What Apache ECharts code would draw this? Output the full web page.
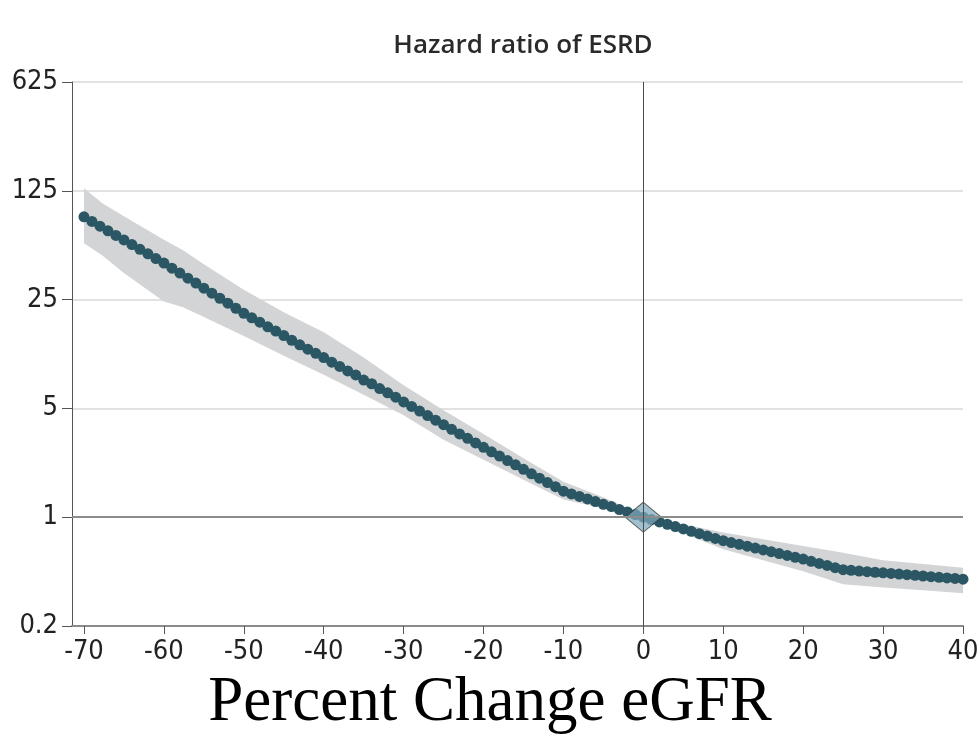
<!DOCTYPE html>
<html>
<head>
<meta charset="utf-8">
<title>Hazard ratio of ESRD</title>
<script src="https://cdn.jsdelivr.net/npm/echarts@6/dist/echarts.min.js"></script>
<style>
  html, body { margin: 0; padding: 0; background: #fff; }
  #chart { width: 977px; height: 750px; }
</style>
</head>
<body>
<div id="chart"></div>
<script>
// Percent change in eGFR (one estimate per whole percent)
const pctChange = [
  -70, -69, -68, -67, -66, -65, -64, -63, -62, -61,
  -60, -59, -58, -57, -56, -55, -54, -53, -52, -51,
  -50, -49, -48, -47, -46, -45, -44, -43, -42, -41,
  -40, -39, -38, -37, -36, -35, -34, -33, -32, -31,
  -30, -29, -28, -27, -26, -25, -24, -23, -22, -21,
  -20, -19, -18, -17, -16, -15, -14, -13, -12, -11,
  -10, -9, -8, -7, -6, -5, -4, -3, -2, -1,
  0, 1, 2, 3, 4, 5, 6, 7, 8, 9,
  10, 11, 12, 13, 14, 15, 16, 17, 18, 19,
  20, 21, 22, 23, 24, 25, 26, 27, 28, 29,
  30, 31, 32, 33, 34, 35, 36, 37, 38, 39, 40
];

// Adjusted hazard ratio of ESRD at each percent change
const hazardRatio = [
  85.0, 79.4, 74.1, 69.2, 64.6, 60.4, 56.4, 52.6, 49.2, 45.9,
  42.9, 39.8, 37.0, 34.3, 31.9, 29.6, 27.5, 25.5, 23.7, 22.0,
  20.4, 19.1, 17.9, 16.7, 15.7, 14.7, 13.7, 12.8, 12.0, 11.3,
  10.6, 9.9, 9.3, 8.7, 8.2, 7.6, 7.2, 6.7, 6.3, 5.9,
  5.5, 5.15, 4.81, 4.5, 4.2, 3.93, 3.67, 3.43, 3.21, 3.0,
  2.81, 2.63, 2.47, 2.31, 2.17, 2.03, 1.90, 1.78, 1.67, 1.57,
  1.47, 1.41, 1.36, 1.31, 1.26, 1.21, 1.17, 1.12, 1.08, 1.04,
  1.00, 0.966, 0.933, 0.901, 0.870, 0.841, 0.812, 0.784, 0.757, 0.731,
  0.706, 0.687, 0.669, 0.651, 0.633, 0.616, 0.600, 0.584, 0.568, 0.553,
  0.538, 0.521, 0.505, 0.490, 0.474, 0.460, 0.456, 0.451, 0.447, 0.443,
  0.439, 0.435, 0.431, 0.427, 0.423, 0.419, 0.415, 0.411, 0.407, 0.404, 0.400
];

// 95% confidence band
const ciX     = [-70, -67.7, -65, -60, -57.6, -55, -50, -45, -40, -35, -30, -25, -20, -15, -10, -5, 0, 5, 10, 15, 20, 25, 30, 35, 40];
const ciUpper = [129.9, 104, 85.9, 60.7, 51.9, 42.2, 28.9, 20.7, 15.4, 10.6, 7.05, 4.86, 3.42, 2.39, 1.69, 1.345, 1.03, 0.902, 0.796, 0.722, 0.654, 0.591, 0.529, 0.501, 0.474];
const ciLower = [57.6, 48.0, 37.0, 24.3, 22.3, 19.3, 14.6, 10.9, 8.24, 6.13, 4.52, 3.15, 2.34, 1.74, 1.30, 1.14, 0.97, 0.789, 0.623, 0.529, 0.450, 0.371, 0.353, 0.340, 0.325];

// Reference point (0% change, HR = 1)
const referencePoint = [0, 1];

// Axis ticks
const xTicks = [-70, -60, -50, -40, -30, -20, -10, 0, 10, 20, 30, 40];
const yTicks = [0.2, 1, 5, 25, 125, 625];

const labelFont = "'DejaVu Sans Condensed', 'Liberation Sans Narrow', 'DejaVu Sans', sans-serif";

const chart = echarts.init(document.getElementById('chart'), null, { renderer: 'canvas' });

function fmtY(v) {
  for (const t of yTicks) {
    if (Math.abs(v - t) / t < 1e-6) return String(t);
  }
  return '';
}

const option = {
  animation: false,
  backgroundColor: '#ffffff',
  graphic: [
    {
      type: 'text', x: 523, y: 46, z: 10,
      style: {
        text: 'Hazard ratio of ESRD', align: 'center', verticalAlign: 'middle',
        font: "600 26px 'Open Sans', 'Noto Sans', sans-serif", fill: '#2a2a2a'
      }
    },
    {
      type: 'text', x: 490, y: 703, z: 10,
      style: {
        text: 'Percent Change eGFR', align: 'center', verticalAlign: 'middle',
        font: "normal 63px 'Liberation Serif', 'DejaVu Serif', serif", fill: '#000'
      }
    }
  ],
  grid: { left: 72, right: 14, top: 82, bottom: 124, containLabel: false, outerBoundsMode: 'none' },
  xAxis: {
    type: 'value',
    min: -71.5, max: 40,
    axisLine: { show: true, onZero: false, lineStyle: { color: '#8a8a8a', width: 2 } },
    axisTick: { show: true, customValues: xTicks, length: 8, lineStyle: { color: '#555', width: 1 } },
    axisLabel: {
      customValues: xTicks, margin: 12,
      fontFamily: labelFont, fontSize: 27, color: '#222'
    },
    splitLine: { show: false }
  },
  yAxis: {
    type: 'log',
    logBase: 5,
    min: 0.2, max: 625,
    axisLine: { show: true, onZero: false, lineStyle: { color: '#555', width: 1 } },
    axisTick: { show: true, length: 10, lineStyle: { color: '#555', width: 1 } },
    axisLabel: {
      margin: 14, formatter: fmtY,
      fontFamily: labelFont, fontSize: 27, color: '#222'
    },
    splitLine: { show: true, lineStyle: { color: '#e2e2e2', width: 2 } }
  },
  series: [
    {
      name: 'CI',
      type: 'custom',
      z: 1,
      silent: true,
      clip: true,
      data: [[0]],
      renderItem: function (params, api) {
        const pts = [];
        for (let i = 0; i < ciX.length; i++) pts.push(api.coord([ciX[i], ciUpper[i]]));
        for (let i = ciX.length - 1; i >= 0; i--) pts.push(api.coord([ciX[i], ciLower[i]]));
        return { type: 'polygon', shape: { points: pts }, style: { fill: '#d3d4d6' } };
      }
    },
    {
      name: 'ref',
      type: 'line',
      z: 2,
      data: [],
      markLine: {
        silent: true,
        symbol: 'none',
        label: { show: false },
        data: [
          { yAxis: 1, lineStyle: { color: '#8c8c8c', width: 2, type: 'solid' } },
          { xAxis: 0, lineStyle: { color: '#4a4a4a', width: 1, type: 'solid' } }
        ]
      }
    },
    {
      name: 'HR',
      type: 'scatter',
      z: 3,
      symbol: 'circle',
      symbolSize: 11,
      itemStyle: { color: '#2b5664', opacity: 1 },
      data: pctChange.map((x, i) => [x, hazardRatio[i]])
    },
    {
      name: 'Reference',
      type: 'scatter',
      z: 4,
      symbol: 'diamond',
      symbolSize: [36, 30],
      itemStyle: { color: 'rgba(125,168,186,0.9)', borderColor: '#333', borderWidth: 1 },
      data: [referencePoint]
    }
  ]
};

chart.setOption(option);
</script>
</body>
</html>
